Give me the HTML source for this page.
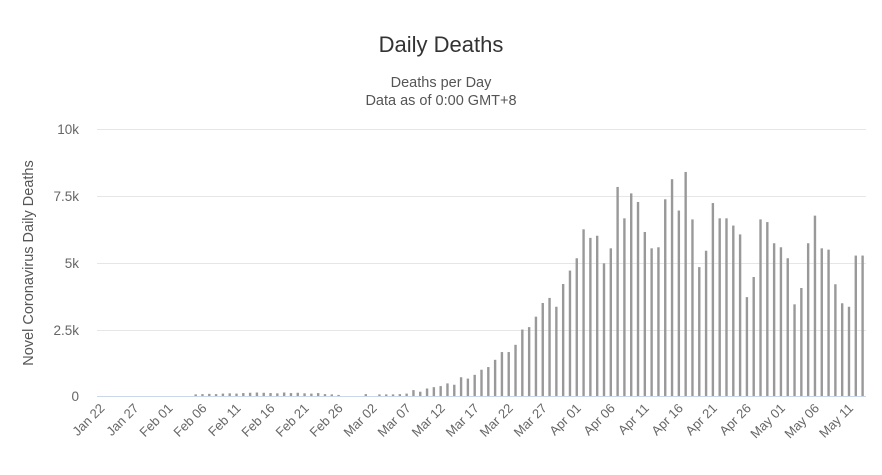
<!DOCTYPE html>
<html><head><meta charset="utf-8"><style>
html,body{margin:0;padding:0;background:#fff;}
svg{display:block;font-family:"Liberation Sans","DejaVu Sans",sans-serif;}
</style></head><body>
<svg id="c" width="882" height="475" xmlns="http://www.w3.org/2000/svg">
<rect width="882" height="475" fill="#fff"/>
<text x="441" y="52" text-anchor="middle" font-size="22" fill="#333">Daily Deaths</text>
<text x="441" y="87" text-anchor="middle" font-size="14.5" fill="#555">Deaths per Day</text>
<text x="441" y="105" text-anchor="middle" font-size="14.5" fill="#555">Data as of 0:00 GMT+8</text>
<g stroke="#e6e6e6" stroke-width="1">
<line x1="97" x2="866" y1="129.5" y2="129.5"/>
<line x1="97" x2="866" y1="196.5" y2="196.5"/>
<line x1="97" x2="866" y1="263.5" y2="263.5"/>
<line x1="97" x2="866" y1="330.5" y2="330.5"/>
</g>
<g font-size="13.5" fill="#666" text-anchor="end">
<text x="79" y="134">10k</text>
<text x="79" y="201">7.5k</text>
<text x="79" y="268">5k</text>
<text x="79" y="335">2.5k</text>
<text x="79" y="401">0</text>
</g>
<text transform="translate(33,263) rotate(-90)" text-anchor="middle" font-size="14.5" fill="#555">Novel Coronavirus Daily Deaths</text>
<g id="bars" fill="#999"></g>
<line x1="97" x2="866" y1="396.5" y2="396.5" stroke="#ccd6eb" stroke-width="1"/>
<g id="lbl" font-size="13" fill="#666"></g>
</svg>
<script>
var v=[];
for(var i=0;i<14;i++)v.push(0);
var feb=[60,70,80,70,90,100,90,110,120,130,120,110,100,130,110,120,100,90,110,70,60,40,0,0,0];
v=v.concat(feb);
var mar=[70,0,60,60,60,70,90,220,160,280,330,370,470,420,700,650,790,980,1080,1350,1640,1640,1910,2480,2570,2960,3470,3660,3330,4180,4680];
v=v.concat(mar);
var rest=[5140,6220,5900,5980,4950,5510,7800,6630,7560,7240,6120,5510,5550,7340,8090,6920,8360,6590,4810,5420,7200,6630,6630,6360,6030,3690,4440,6590,6490,5700,5550,5140,3420,4030,5700,6730,5510,5460,4170,3460,3330,5240,5240];
v=v.concat(rest);
var g=document.getElementById('bars'),s='';
var step=769/113;
for(var i=0;i<v.length;i++){var cx=97+step*(i+0.5);var h=v[i]*268/10000;if(h<0.5)continue;
s+='<rect x="'+(cx-1.2).toFixed(2)+'" y="'+(396-h).toFixed(2)+'" width="2.4" height="'+h.toFixed(2)+'"/>';}
g.innerHTML=s;
var labs=["Jan 22","Jan 27","Feb 01","Feb 06","Feb 11","Feb 16","Feb 21","Feb 26","Mar 02","Mar 07","Mar 12","Mar 17","Mar 22","Mar 27","Apr 01","Apr 06","Apr 11","Apr 16","Apr 21","Apr 26","May 01","May 06","May 11"];
var t='';
for(var k=0;k<labs.length;k++){var cx=97+step*(k*5+0.5)+5;
t+='<text transform="translate('+cx.toFixed(1)+',409) rotate(-45)" text-anchor="end">'+labs[k]+'</text>';}
document.getElementById('lbl').innerHTML=t;
</script>
</body></html>
